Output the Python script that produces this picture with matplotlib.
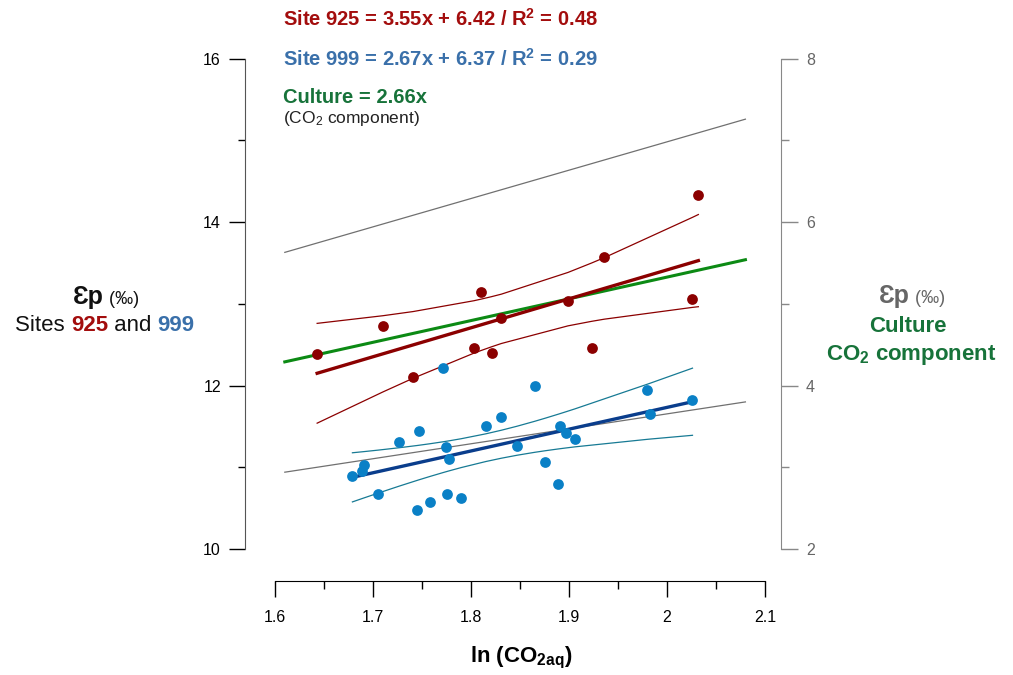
import numpy as np
import matplotlib.pyplot as plt

plt.rcParams['font.family'] = ['Liberation Sans', 'DejaVu Sans']
plt.rcParams['mathtext.fontset'] = 'custom'
plt.rcParams['mathtext.rm'] = 'Liberation Sans'
plt.rcParams['mathtext.bf'] = 'Liberation Sans:bold'
plt.rcParams['mathtext.it'] = 'Liberation Sans:italic'

# site 925 (left axis)
x925 = [1.643, 1.710, 1.741, 1.803, 1.810, 1.821, 1.831, 1.899, 1.923, 1.936, 2.026, 2.032]
y925 = [12.39, 12.73, 12.11, 12.46, 13.15, 12.40, 12.83, 13.03, 12.46, 13.57, 13.06, 14.33]

# site 999 (left axis)
x999 = [1.771, 1.865, 1.980, 2.026, 1.983, 1.831, 1.815, 1.747, 1.727, 1.891, 1.897, 1.906,
        1.774, 1.847, 1.778, 1.691, 1.689, 1.679, 1.876, 1.889, 1.705, 1.775, 1.790, 1.758, 1.745]
y999 = [12.22, 12.00, 11.94, 11.82, 11.65, 11.62, 11.51, 11.44, 11.31, 11.50, 11.42, 11.35,
        11.25, 11.26, 11.10, 11.03, 10.96, 10.89, 11.06, 10.80, 10.67, 10.67, 10.63, 10.57, 10.48]

# culture CO2 component (right axis), line end points
cult_x = [1.61, 2.08]
cult_mid = [4.29, 5.54]
cult_hi = [5.63, 7.26]
cult_lo = [2.94, 3.80]

# student t (95%, n-2 df)
t925 = 2.228
t999 = 2.069

red = '#8b0000'
red_txt = '#a30d0d'
blue_pt = '#0a80c6'
blue_fit = '#0a3d8c'
blue_band = '#177a94'
blue_txt = '#3a70aa'
green = '#0c8a14'
green_txt = '#17733a'
gray = '#707070'


def fit_band(x, y, t):
    x = np.asarray(x)
    y = np.asarray(y)
    b, a = np.polyfit(x, y, 1)
    n = len(x)
    s = np.sqrt(np.sum((y - (a + b * x)) ** 2) / (n - 2))
    sxx = np.sum((x - x.mean()) ** 2)
    xs = np.sort(x)
    yh = a + b * xs
    half = t * s * np.sqrt(1 / n + (xs - x.mean()) ** 2 / sxx)
    return xs, yh, yh - half, yh + half


W, H = 1013, 675
fig = plt.figure(figsize=(W / 100, H / 100), dpi=100)
ax = fig.add_axes([275 / W, 126 / H, 490 / W, 490.3 / H])
ax2 = ax.twinx()
ax.set_xlim(1.6, 2.1)
ax.set_ylim(10, 16)
ax2.set_ylim(2, 8)
ax.patch.set_visible(False)

# culture lines
ax2.plot(cult_x, cult_hi, color=gray, lw=0.9)
ax2.plot(cult_x, cult_lo, color=gray, lw=0.9)
ax2.plot(cult_x, cult_mid, color=green, lw=2.2)

xs, yh, lo, hi = fit_band(x925, y925, t925)
ax.plot(xs, lo, color=red, lw=0.9)
ax.plot(xs, hi, color=red, lw=0.9)
ax.plot(xs[[0, -1]], yh[[0, -1]], color=red, lw=2.4)

xs, yh, lo, hi = fit_band(x999, y999, t999)
ax.plot(xs, lo, color=blue_band, lw=0.9)
ax.plot(xs, hi, color=blue_band, lw=0.9)
ax.plot(xs[[0, -1]], yh[[0, -1]], color=blue_fit, lw=2.4)

ax.scatter(x925, y925, s=60, color=red, zorder=5, lw=0)
ax.scatter(x999, y999, s=60, color=blue_pt, zorder=5, lw=0)
ax.set_zorder(ax2.get_zorder() + 1)

# spines
for s in ['top', 'right']:
    ax.spines[s].set_visible(False)
for s in ['top', 'left', 'bottom']:
    ax2.spines[s].set_visible(False)
ax.spines['left'].set_position(('outward', 21.6))
ax.spines['bottom'].set_position(('outward', 22.7))
ax2.spines['right'].set_position(('outward', 11.5))
ax.spines['left'].set_color('#555555')
ax2.spines['right'].set_color('#888888')

ax.set_xticks([1.6, 1.7, 1.8, 1.9, 2.0, 2.1])
ax.set_xticklabels(['1.6', '1.7', '1.8', '1.9', '2', '2.1'])
ax.set_xticks([1.65, 1.75, 1.85, 1.95, 2.05], minor=True)
ax.set_yticks([10, 12, 14, 16])
ax.set_yticks([11, 13, 15], minor=True)
ax2.set_yticks([2, 4, 6, 8])
ax2.set_yticks([3, 5, 7], minor=True)

ax.tick_params(axis='x', which='major', length=11.5, width=1, labelsize=11.5, pad=10)
ax.tick_params(axis='x', which='minor', length=6, width=1)
ax.tick_params(axis='y', which='major', length=11.3, width=1, labelsize=11.5, pad=6)
ax.tick_params(axis='y', which='minor', length=5, width=1)
ax2.tick_params(axis='y', which='major', length=12, width=1, labelsize=11.5, pad=6,
                color='#888888', labelcolor='#666666')
ax2.tick_params(axis='y', which='minor', length=6, width=1, color='#888888')

fig.text(521 / W, 1 - 658 / H, r'ln (CO$_{\mathbf{2aq}}$)', ha='center', va='center',
         fontsize=16, fontweight='bold')

renderer = fig.canvas.get_renderer()


def rich(x, y, parts, ha='center'):
    # pieces of text in a row, x/y in pixels from top-left, y is the baseline
    items = []
    for s, kw in parts:
        t = fig.text(0, 0, s, va='baseline', ha='left', **kw)
        items.append((t, t.get_window_extent(renderer=renderer).width))
    total = sum(w for _, w in items)
    x0 = x - total / 2 if ha == 'center' else x
    for t, w in items:
        t.set_position((x0 / W, 1 - y / H))
        x0 += w


# equations at the top
rich(283, 26, [(r'Site 925 = 3.55x + 6.42 / R$^\mathbf{2}$ = 0.48',
                dict(fontsize=14.5, fontweight='bold', color=red_txt))], ha='left')
rich(283, 66, [(r'Site 999 = 2.67x + 6.37 / R$^\mathbf{2}$ = 0.29',
                dict(fontsize=14.5, fontweight='bold', color=blue_txt))], ha='left')
rich(283, 103, [('Culture = 2.66x', dict(fontsize=14.5, fontweight='bold', color=green_txt))],
     ha='left')
rich(283, 123, [(r'(CO$_2$ component)', dict(fontsize=12.5, color='#222222'))], ha='left')

# left axis label
rich(106, 304, [('Ɛp', dict(fontsize=18, fontweight='bold', color='#111111')),
                (' (‰)', dict(fontsize=13, color='#111111'))])
rich(105, 331, [('Sites ', dict(fontsize=16, color='#111111')),
                ('925', dict(fontsize=16, fontweight='bold', color=red_txt)),
                (' and ', dict(fontsize=16, color='#111111')),
                ('999', dict(fontsize=16, fontweight='bold', color=blue_txt))])

# right axis label
rich(912, 303, [('Ɛp', dict(fontsize=18, fontweight='bold', color='#666666')),
                (' (‰)', dict(fontsize=13, color='#666666'))])
rich(908, 332, [('Culture', dict(fontsize=16, fontweight='bold', color=green_txt))])
rich(911, 360, [(r'CO$_\mathbf{2}$ component', dict(fontsize=16, fontweight='bold',
                                                    color=green_txt))])

fig.savefig('out.png', dpi=100)
